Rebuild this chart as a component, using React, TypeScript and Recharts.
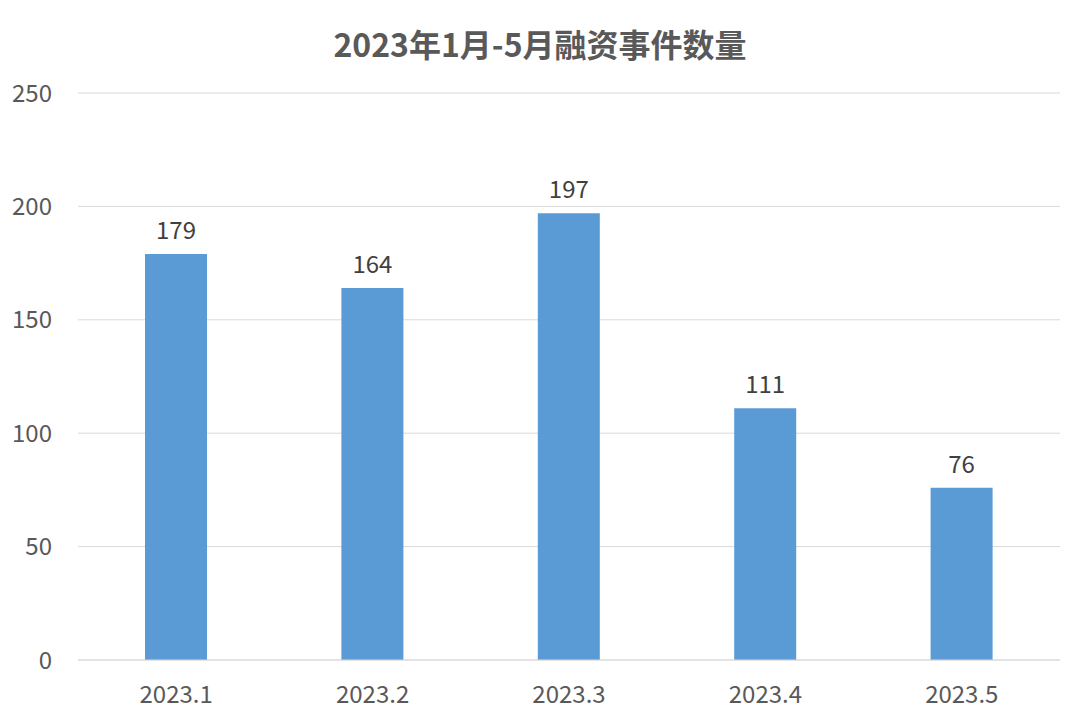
import { BarChart, Bar, XAxis, YAxis, CartesianGrid, LabelList } from 'recharts';

const months = ['2023.1', '2023.2', '2023.3', '2023.4', '2023.5'];
const counts = [179, 164, 197, 111, 76];
const yTicks = [0, 50, 100, 150, 200, 250];

const data = months.map((m, i) => ({ month: m, count: counts[i] }));

const FONT = '"Noto Sans CJK SC", "Open Sans", sans-serif';

export default function App() {
  return (
    <div style={{ position: 'absolute', left: 0, top: 0, width: 1080, height: 720, background: '#fff', fontFamily: FONT }}>
      <div
        style={{
          position: 'absolute',
          top: 20,
          left: 0,
          width: 1080,
          textAlign: 'center',
          fontSize: 32,
          fontWeight: 'bold',
          color: '#595959',
        }}
      >
        2023年1月-5月融资事件数量
      </div>
      <BarChart width={1080} height={720} data={data} margin={{ top: 93, right: 20, bottom: 0, left: 0 }}>
        <CartesianGrid vertical={false} stroke="#d9d9d9" />
        <XAxis
          dataKey="month"
          height={60}
          stroke="#d9d9d9"
          tickLine={false}
          tickSize={0}
          tickMargin={26}
          tick={{ fill: '#595959', fontSize: 24, fontFamily: FONT }}
        />
        <YAxis
          width={78}
          domain={[0, 250]}
          ticks={yTicks}
          axisLine={false}
          tickLine={false}
          tickSize={0}
          tickMargin={26}
          tick={{ fill: '#595959', fontSize: 24, fontFamily: FONT }}
        />
        <Bar dataKey="count" fill="#5b9bd5" barSize={62} isAnimationActive={false}>
          <LabelList dataKey="count" position="top" offset={15} fill="#404040" fontSize={24} fontFamily={FONT} />
        </Bar>
      </BarChart>
    </div>
  );
}
